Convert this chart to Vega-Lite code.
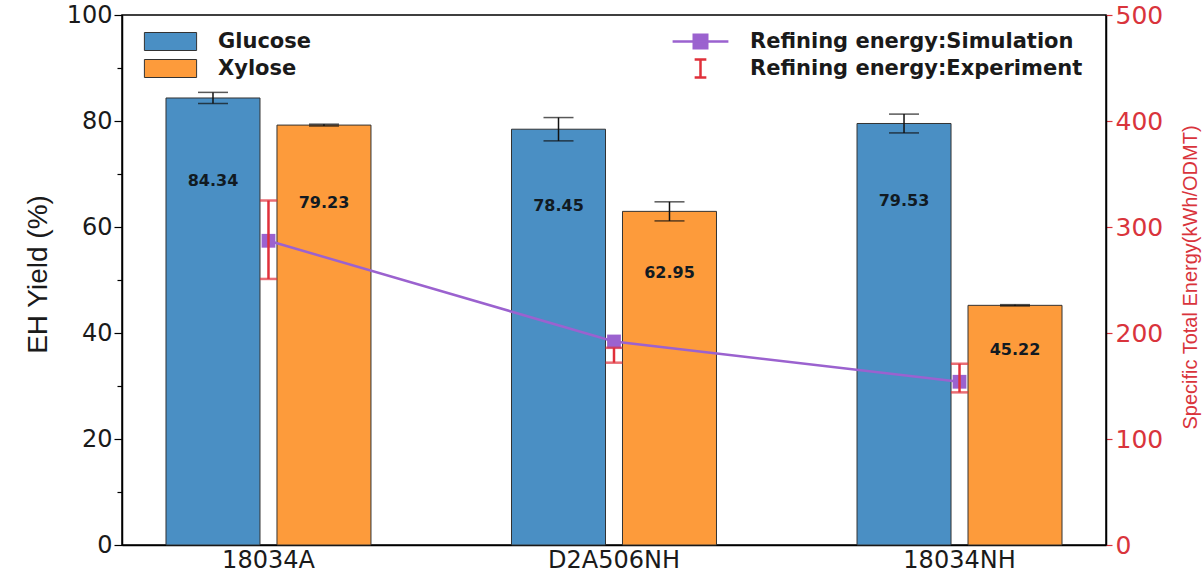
{
  "$schema": "https://vega.github.io/schema/vega-lite/v6.json",
  "width": 984,
  "height": 530,
  "autosize": {"type": "none"},
  "padding": {"left": 122, "top": 15, "right": 96, "bottom": 28},
  "background": "white",
  "config": {
    "view": {"stroke": "black", "strokeWidth": 1.5},
    "font": "DejaVu Sans",
    "axis": {"grid": false, "domainColor": "black", "domainWidth": 1.5, "tickColor": "black", "tickWidth": 1.2, "labelFont": "DejaVu Sans"},
    "legend": {"padding": 0, "titlePadding": 0, "labelLimit": 500}
  },
  "datasets": {
    "bars": [
      {"sample": "18034A", "sugar": "Glucose", "value": 84.34, "lo": 83.3, "hi": 85.4},
      {"sample": "18034A", "sugar": "Xylose", "value": 79.23, "lo": 79.05, "hi": 79.4},
      {"sample": "D2A506NH", "sugar": "Glucose", "value": 78.45, "lo": 76.25, "hi": 80.65},
      {"sample": "D2A506NH", "sugar": "Xylose", "value": 62.95, "lo": 61.15, "hi": 64.75},
      {"sample": "18034NH", "sugar": "Glucose", "value": 79.53, "lo": 77.75, "hi": 81.3},
      {"sample": "18034NH", "sugar": "Xylose", "value": 45.22, "lo": 45.1, "hi": 45.35}
    ],
    "sim": [
      {"sample": "18034A", "series": "Refining energy:Simulation", "energy": 287},
      {"sample": "D2A506NH", "series": "Refining energy:Simulation", "energy": 192},
      {"sample": "18034NH", "series": "Refining energy:Simulation", "energy": 154}
    ],
    "exp": [
      {"sample": "18034A", "series": "Refining energy:Experiment", "lo": 251, "hi": 325},
      {"sample": "D2A506NH", "series": "Refining energy:Experiment", "lo": 172, "hi": 186},
      {"sample": "18034NH", "series": "Refining energy:Experiment", "lo": 144, "hi": 171}
    ]
  },
  "layer": [
    {
      "data": {"name": "bars"},
      "mark": {"type": "bar", "stroke": "#333333", "strokeWidth": 1},
      "encoding": {
        "x": {"field": "sample", "type": "nominal", "title": null,
          "scale": {"domain": ["18034A", "D2A506NH", "18034NH"], "paddingInner": 0.4067, "paddingOuter": 0.1273},
          "axis": {"labelAngle": 0, "ticks": false, "labelFontSize": 24, "labelPadding": 3, "labelColor": "#1a1a1a"}},
        "xOffset": {"field": "sugar", "type": "nominal", "scale": {"domain": ["Glucose", "Xylose"], "paddingInner": 0.153, "paddingOuter": 0}},
        "y": {"field": "value", "type": "quantitative", "scale": {"domain": [0, 100], "nice": false},
          "axis": {"orient": "left", "values": [0, 20, 40, 60, 80, 100], "tickSize": 8, "labelFontSize": 24, "labelColor": "#1a1a1a", "labelPadding": 2,
            "title": "EH Yield (%)", "titleFont": "Liberation Sans", "titleFontSize": 28, "titleFontWeight": "normal", "titleColor": "#1a1a1a",
            "titleX": -84, "titleY": 259, "titleAngle": -90, "titleAlign": "center", "titleBaseline": "middle"}},
        "color": {"field": "sugar", "type": "nominal",
          "scale": {"domain": ["Glucose", "Xylose"], "range": ["#4a8fc4", "#fd9b3b"]},
          "legend": {"orient": "none", "legendX": 38, "legendY": 16, "title": null,
            "symbolType": "M-2.9,-1H2.9V1H-2.9Z", "symbolSize": 324, "symbolStrokeColor": "#333333", "symbolStrokeWidth": 1, "symbolOpacity": 1,
            "labelFont": "DejaVu Sans", "labelFontWeight": "bold", "labelFontSize": 21, "labelColor": "#1a1a1a", "labelOffset": 37, "rowPadding": 4}}
      }
    },
    {
      "data": {"name": "bars"},
      "encoding": {
        "x": {"field": "sample", "type": "nominal", "title": null, "scale": {"domain": ["18034A", "D2A506NH", "18034NH"], "paddingInner": 0.4067, "paddingOuter": 0.1273}},
        "xOffset": {"field": "sugar", "type": "nominal", "scale": {"domain": ["Glucose", "Xylose"], "paddingInner": 0.153, "paddingOuter": 0}}
      },
      "layer": [
        {
          "mark": {"type": "rule", "color": "#111111", "strokeWidth": 1.5},
          "encoding": {
            "y": {"field": "lo", "type": "quantitative", "scale": {"domain": [0, 100], "nice": false},
              "axis": {"orient": "left", "values": [10, 30, 50, 70, 90], "labels": false, "tickSize": 5, "domain": false, "title": null}},
            "y2": {"field": "hi"}
          }
        },
        {
          "mark": {"type": "tick", "color": "#111111", "size": 30, "thickness": 1.5},
          "encoding": {"y": {"field": "hi", "type": "quantitative", "scale": {"domain": [0, 100], "nice": false},
            "axis": {"orient": "left", "values": [10, 30, 50, 70, 90], "labels": false, "tickSize": 5, "domain": false, "title": null}}}
        },
        {
          "mark": {"type": "tick", "color": "#111111", "size": 30, "thickness": 1.5},
          "encoding": {"y": {"field": "lo", "type": "quantitative", "scale": {"domain": [0, 100], "nice": false},
            "axis": {"orient": "left", "values": [10, 30, 50, 70, 90], "labels": false, "tickSize": 5, "domain": false, "title": null}}}
        }
      ]
    },
    {
      "data": {"name": "bars"},
      "mark": {"type": "text", "font": "DejaVu Sans", "fontWeight": "bold", "fontSize": 16, "color": "#111a22", "baseline": "middle"},
      "encoding": {
        "x": {"field": "sample", "type": "nominal", "title": null, "scale": {"domain": ["18034A", "D2A506NH", "18034NH"], "paddingInner": 0.4067, "paddingOuter": 0.1273}},
        "xOffset": {"field": "sugar", "type": "nominal", "scale": {"domain": ["Glucose", "Xylose"], "paddingInner": 0.153, "paddingOuter": 0}},
        "y": {"field": "value", "type": "quantitative", "scale": {"domain": [0, 122.7], "nice": false}, "axis": null},
        "text": {"field": "value", "type": "quantitative", "format": ".2f"}
      }
    },
    {
      "layer": [
        {
          "data": {"name": "sim"},
          "mark": {"type": "line", "strokeWidth": 2.5},
          "encoding": {
            "x": {"field": "sample", "type": "nominal", "title": null, "scale": {"domain": ["18034A", "D2A506NH", "18034NH"], "paddingInner": 0.4067, "paddingOuter": 0.1273}},
            "y": {"field": "energy", "type": "quantitative", "scale": {"domain": [0, 500], "nice": false},
              "axis": {"orient": "right", "values": [0, 100, 200, 300, 400, 500], "tickSize": 6, "tickColor": "#d9343c", "labelColor": "#d9343c", "labelFontSize": 25, "labelPadding": 3,
                "title": "Specific Total Energy(kWh/ODMT)", "titleFont": "Liberation Sans", "titleFontSize": 20, "titleFontWeight": "normal", "titleColor": "#d9343c",
                "titleX": 84, "titleY": 262, "titleAngle": -90, "titleAlign": "center", "titleBaseline": "middle"}},
            "color": {"field": "series", "type": "nominal",
              "scale": {"domain": ["Refining energy:Simulation", "Refining energy:Experiment"], "range": ["#9b62cf", "#e0303a"]},
              "legend": {"orient": "none", "legendX": 568, "legendY": 16, "title": null,
                "symbolSize": 324, "symbolStrokeWidth": 2.5,
                "labelFont": "DejaVu Sans", "labelFontWeight": "bold", "labelFontSize": 21, "labelColor": "#1a1a1a", "labelOffset": 39, "rowPadding": 0,
                "encode": {"symbols": {"update": {
                  "shape": {"signal": "datum.value == 'Refining energy:Simulation' ? 'M-3.1,0H3.1M-0.75,-0.75H0.75V0.75H-0.75Z' : 'M-0.65,-1H0.65M0,-1V1M-0.65,1H0.65'"},
                  "fill": {"signal": "datum.value == 'Refining energy:Simulation' ? '#9b62cf' : 'transparent'"},
                  "strokeWidth": {"value": 2.5},
                  "opacity": {"value": 1}
                }}}}}
          }
        },
        {
          "data": {"name": "sim"},
          "mark": {"type": "point", "shape": "square", "filled": true, "size": 190, "color": "#9b62cf", "opacity": 1},
          "encoding": {
            "x": {"field": "sample", "type": "nominal", "title": null, "scale": {"domain": ["18034A", "D2A506NH", "18034NH"], "paddingInner": 0.4067, "paddingOuter": 0.1273}},
            "y": {"field": "energy", "type": "quantitative", "scale": {"domain": [0, 500], "nice": false},
              "axis": {"orient": "right", "values": [0, 100, 200, 300, 400, 500], "tickSize": 6, "tickColor": "#d9343c", "labelColor": "#d9343c", "labelFontSize": 25, "labelPadding": 3,
                "title": "Specific Total Energy(kWh/ODMT)", "titleFont": "Liberation Sans", "titleFontSize": 20, "titleFontWeight": "normal", "titleColor": "#d9343c",
                "titleX": 84, "titleY": 262, "titleAngle": -90, "titleAlign": "center", "titleBaseline": "middle"}}
          }
        },
        {
          "data": {"name": "exp"},
          "mark": {"type": "rule", "color": "#e0303a", "strokeWidth": 2.5},
          "encoding": {
            "x": {"field": "sample", "type": "nominal", "title": null, "scale": {"domain": ["18034A", "D2A506NH", "18034NH"], "paddingInner": 0.4067, "paddingOuter": 0.1273}},
            "y": {"field": "lo", "type": "quantitative", "scale": {"domain": [0, 500], "nice": false},
              "axis": {"orient": "right", "values": [0, 100, 200, 300, 400, 500], "tickSize": 6, "tickColor": "#d9343c", "labelColor": "#d9343c", "labelFontSize": 25, "labelPadding": 3,
                "title": "Specific Total Energy(kWh/ODMT)", "titleFont": "Liberation Sans", "titleFontSize": 20, "titleFontWeight": "normal", "titleColor": "#d9343c",
                "titleX": 84, "titleY": 262, "titleAngle": -90, "titleAlign": "center", "titleBaseline": "middle"}},
            "y2": {"field": "hi"}
          }
        },
        {
          "data": {"name": "exp"},
          "mark": {"type": "tick", "color": "#e0303a", "size": 17, "thickness": 2.5},
          "encoding": {
            "x": {"field": "sample", "type": "nominal", "title": null, "scale": {"domain": ["18034A", "D2A506NH", "18034NH"], "paddingInner": 0.4067, "paddingOuter": 0.1273}},
            "y": {"field": "hi", "type": "quantitative", "scale": {"domain": [0, 500], "nice": false},
              "axis": {"orient": "right", "values": [0, 100, 200, 300, 400, 500], "tickSize": 6, "tickColor": "#d9343c", "labelColor": "#d9343c", "labelFontSize": 25, "labelPadding": 3,
                "title": "Specific Total Energy(kWh/ODMT)", "titleFont": "Liberation Sans", "titleFontSize": 20, "titleFontWeight": "normal", "titleColor": "#d9343c",
                "titleX": 84, "titleY": 262, "titleAngle": -90, "titleAlign": "center", "titleBaseline": "middle"}}
          }
        },
        {
          "data": {"name": "exp"},
          "mark": {"type": "tick", "color": "#e0303a", "size": 17, "thickness": 2.5},
          "encoding": {
            "x": {"field": "sample", "type": "nominal", "title": null, "scale": {"domain": ["18034A", "D2A506NH", "18034NH"], "paddingInner": 0.4067, "paddingOuter": 0.1273}},
            "y": {"field": "lo", "type": "quantitative", "scale": {"domain": [0, 500], "nice": false},
              "axis": {"orient": "right", "values": [0, 100, 200, 300, 400, 500], "tickSize": 6, "tickColor": "#d9343c", "labelColor": "#d9343c", "labelFontSize": 25, "labelPadding": 3,
                "title": "Specific Total Energy(kWh/ODMT)", "titleFont": "Liberation Sans", "titleFontSize": 20, "titleFontWeight": "normal", "titleColor": "#d9343c",
                "titleX": 84, "titleY": 262, "titleAngle": -90, "titleAlign": "center", "titleBaseline": "middle"}}
          }
        }
      ]
    }
  ],
  "resolve": {"scale": {"y": "independent", "color": "independent"}, "axis": {"y": "independent"}, "legend": {"color": "independent"}}
}
